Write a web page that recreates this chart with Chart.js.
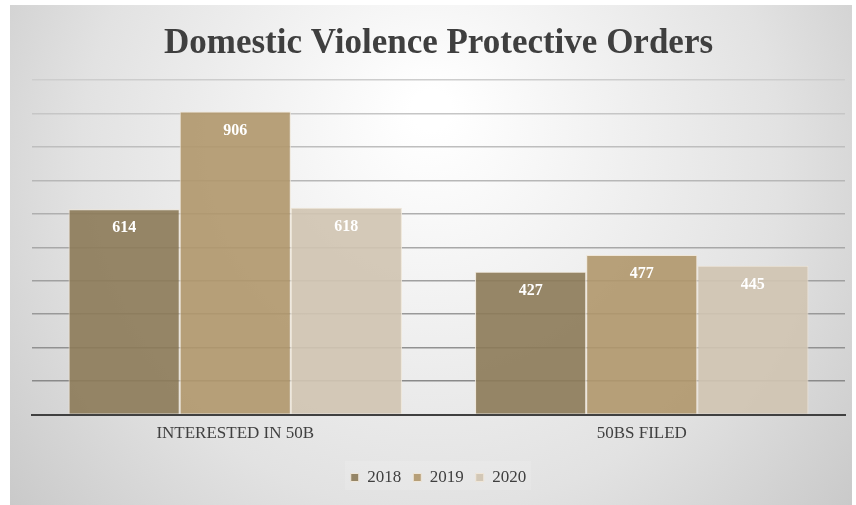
<!DOCTYPE html>
<html>
<head>
<meta charset="utf-8">
<script src="https://cdn.jsdelivr.net/npm/chart.js@4.4.1/dist/chart.umd.min.js"></script>
<style>
  html, body { margin: 0; padding: 0; background: #ffffff; }
  #wrap { width: 856px; height: 505px; }
</style>
</head>
<body>
<div id="wrap"><canvas id="barChart" width="856" height="505"></canvas></div>
<script>
// chart data
const categories = ['INTERESTED IN 50B', '50BS FILED'];
const years = ['2018', '2019', '2020'];
const values2018 = [614, 427];
const values2019 = [906, 477];
const values2020 = [618, 445];
const yTicks = [0, 100, 200, 300, 400, 500, 600, 700, 800, 900, 1000];

const serif = "'Liberation Serif', 'DejaVu Serif', serif";

// gray radial backdrop behind everything
const backdrop = {
  id: 'backdrop',
  beforeDraw(chart) {
    const c = chart.ctx;
    const g = c.createRadialGradient(431, 110, 20, 431, 200, 620);
    g.addColorStop(0, '#ffffff');
    g.addColorStop(0.55, '#e2e2e2');
    g.addColorStop(1, '#bdbdbd');
    c.save();
    c.fillStyle = g;
    c.fillRect(10, 5, 842, 500);
    // faint box behind legend
    c.fillStyle = 'rgba(255,255,255,0.12)';
    c.fillRect(345, 461, 186, 29);
    c.restore();
  }
};

// white value labels inside the top of each bar
const barLabels = {
  id: 'barLabels',
  afterDatasetsDraw(chart) {
    const c = chart.ctx;
    c.save();
    c.fillStyle = '#ffffff';
    c.font = 'bold 16px ' + serif;
    c.textAlign = 'center';
    c.textBaseline = 'middle';
    chart.data.datasets.forEach((ds, i) => {
      chart.getDatasetMeta(i).data.forEach((bar, j) => {
        c.fillText(ds.data[j], bar.x, bar.y + 19);
      });
    });
    c.restore();
  }
};

const ctx = document.getElementById('barChart');
new Chart(ctx, {
  type: 'bar',
  data: {
    labels: categories,
    datasets: [
      {
        label: years[0],
        data: values2018,
        backgroundColor: 'rgba(140,122,88,0.9)',
        borderColor: '#efe6d8',
        borderWidth: 1
      },
      {
        label: years[1],
        data: values2019,
        backgroundColor: 'rgba(176,151,108,0.9)',
        borderColor: '#efe6d8',
        borderWidth: 1
      },
      {
        label: years[2],
        data: values2020,
        backgroundColor: 'rgba(208,196,178,0.92)',
        borderColor: '#efe6d8',
        borderWidth: 1
      }
    ]
  },
  options: {
    responsive: false,
    animation: false,
    devicePixelRatio: 1,
    categoryPercentage: 0.82,
    barPercentage: 1.0,
    layout: { padding: { left: 32, right: 11, top: 4, bottom: 9 } },
    plugins: {
      title: {
        display: true,
        text: 'Domestic Violence Protective Orders',
        color: '#3f3f3f',
        font: { family: serif, size: 35, weight: 'bold' },
        padding: { top: 19, bottom: 15 }
      },
      legend: {
        position: 'bottom',
        labels: {
          color: '#404040',
          font: { family: serif, size: 17 },
          boxWidth: 8,
          boxHeight: 8,
          padding: 12
        }
      },
      tooltip: { enabled: false }
    },
    scales: {
      x: {
        grid: { display: false },
        border: { display: true, color: '#404040', width: 2 },
        ticks: { color: '#404040', font: { family: serif, size: 17 }, padding: 1 },
        afterFit(axis) {
          axis.height += 12;
        }
      },
      y: {
        min: yTicks[0],
        max: yTicks[yTicks.length - 1],
        afterBuildTicks(axis) {
          axis.ticks = yTicks.map(v => ({ value: v }));
        },
        ticks: { display: false },
        border: { display: false },
        grid: {
          drawTicks: false,
          lineWidth: 1.5,
          color(c) {
            const shade = Math.round(205 - (1000 - c.tick.value) / 1000 * 75);
            return 'rgb(' + shade + ',' + shade + ',' + shade + ')';
          }
        }
      }
    }
  },
  plugins: [backdrop, barLabels]
});
</script>
</body>
</html>
